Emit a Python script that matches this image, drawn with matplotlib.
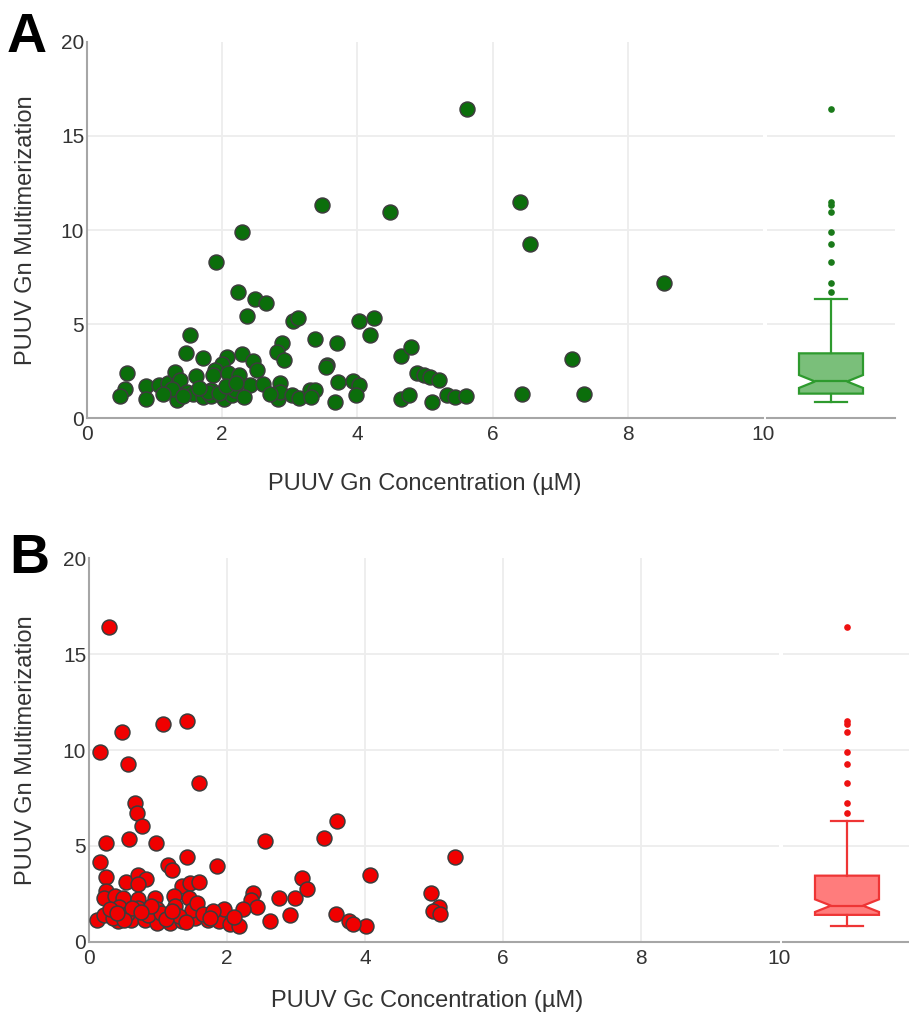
import matplotlib
matplotlib.use("Agg")
import matplotlib.pyplot as plt

plt.rcParams['font.family'] = ['Liberation Sans', 'DejaVu Sans']

# ---------------- Panel A data: PUUV Gn concentration vs multimerization ----------------
gn_conc = [5.62, 3.48, 4.48, 2.30, 1.91, 2.23, 2.49, 2.65, 2.36, 3.05, 3.12, 4.03, 4.25, 4.18,
           1.53, 3.38, 3.70, 2.88, 2.81, 2.91, 1.46, 1.71, 2.30, 2.45, 2.51, 2.07, 2.00, 1.89,
           1.86, 2.09, 2.25, 4.65, 4.80, 3.55, 3.53, 0.59, 0.56, 0.49, 0.87, 0.88, 1.07, 1.20,
           1.30, 1.33, 1.35, 1.38, 1.48, 1.61, 1.57, 1.71, 1.84, 1.84, 2.02, 2.14, 2.19, 2.41,
           2.60, 2.85, 2.83, 2.85, 3.03, 3.14, 3.30, 3.37, 3.32, 3.72, 3.67, 3.94, 4.03, 3.98,
           4.65, 4.77, 4.88, 4.98, 5.07, 5.20, 5.11, 5.32, 5.44, 5.60, 1.79,
           6.40, 6.56, 8.53, 7.17, 6.43, 7.35,
           1.25, 1.42, 1.65, 1.95, 2.05, 2.32, 2.70, 1.12, 2.20]
gn_mult = [16.42, 11.33, 10.97, 9.91, 8.30, 6.72, 6.31, 6.10, 5.44, 5.18, 5.34, 5.18, 5.34, 4.45,
           4.45, 4.20, 4.02, 4.02, 3.53, 3.09, 3.48, 3.21, 3.44, 3.05, 2.59, 3.26, 2.90, 2.55,
           2.29, 2.38, 2.29, 3.32, 3.79, 2.82, 2.70, 2.38, 1.58, 1.17, 1.70, 1.05, 1.76, 1.86,
           2.46, 0.99, 1.86, 2.03, 1.40, 2.23, 1.31, 1.13, 1.17, 1.49, 1.05, 1.22, 1.49, 1.76,
           1.81, 1.88, 1.05, 1.40, 1.22, 1.10, 1.49, 1.49, 1.13, 1.93, 0.87, 1.98, 1.76, 1.22,
           1.05, 1.22, 2.38, 2.29, 2.20, 2.03, 0.89, 1.26, 1.13, 1.19, 1.40,
           11.51, 9.26, 7.20, 3.14, 1.31, 1.31,
           1.55, 1.20, 1.62, 1.35, 1.70, 1.15, 1.28, 1.30, 1.85]

# ---------------- Panel B data: PUUV Gc concentration vs Gn multimerization ----------------
gc_conc = [0.29, 0.16, 0.48, 0.56, 1.07, 1.42, 1.59, 0.66, 0.70, 0.77, 0.24, 0.58, 0.97, 0.16,
           1.42, 1.15, 1.20, 1.86, 2.55, 3.41, 3.59, 4.07, 0.25, 0.54, 0.71, 0.83, 0.71, 1.35,
           1.47, 1.59, 0.25, 0.22, 0.37, 0.49, 0.71, 0.96, 1.23, 1.45, 2.38, 2.35, 2.43, 2.75,
           2.99, 3.09, 3.16, 2.92, 2.62, 3.58, 3.77, 4.02, 0.12, 0.22, 0.42, 0.61, 0.81, 0.98,
           1.18, 1.35, 1.54, 1.72, 1.89, 2.04, 2.18, 1.96, 2.23, 0.71, 0.98, 1.25, 1.49, 0.44,
           1.57, 5.31, 4.95, 5.07, 4.99, 5.08, 3.82,
           0.35, 0.55, 0.85, 1.05, 1.30, 1.65, 0.30, 0.62, 0.90, 1.12, 1.40, 1.80, 2.10, 0.50,
           0.75, 1.20, 0.40, 1.75]
gc_mult = [16.40, 9.91, 10.96, 9.25, 11.34, 11.52, 8.29, 7.21, 6.72, 6.06, 5.15, 5.36, 5.15, 4.15,
           4.41, 4.01, 3.75, 3.96, 5.27, 5.41, 6.28, 3.49, 3.40, 3.14, 3.49, 3.27, 3.01, 2.88,
           3.05, 3.09, 2.65, 2.30, 2.36, 2.30, 2.25, 2.30, 2.36, 2.30, 2.53, 2.18, 1.83, 2.27,
           2.30, 3.32, 2.74, 1.40, 1.08, 1.43, 1.08, 0.82, 1.13, 1.40, 1.06, 1.13, 1.13, 0.96,
           0.96, 1.08, 1.22, 1.13, 1.08, 0.91, 0.84, 1.71, 1.71, 1.75, 1.71, 1.88, 1.66, 1.83,
           2.01, 4.40, 2.53, 1.83, 1.60, 1.43, 0.90,
           1.25, 1.45, 1.40, 1.50, 1.35, 1.45, 1.70, 1.75, 1.85, 1.20, 1.05, 1.60, 1.30, 1.15,
           1.55, 1.62, 1.50, 1.25]

x_ticks = [0, 2, 4, 6, 8, 10]
y_ticks = [0, 5, 10, 15, 20]

W, H = 909, 1022
fig = plt.figure(figsize=(W / 100, H / 100), dpi=100)

GRID = '#ededed'
SPINE = '#a6a6a6'
TICKC = '#333333'


def px_rect(left, top, right, bottom):
    return [left / W, 1 - bottom / H, (right - left) / W, (bottom - top) / H]


def panel(scatter_px, box_px, x, y, fill, box_face, box_edge, out_col, xlabel, letter,
          letter_xy, xlab_pos, ylab_x):
    ax = fig.add_axes(px_rect(*scatter_px))
    ax.set_axisbelow(True)
    ax.scatter(x, y, s=115, c=fill, edgecolors='#3c3c3c', linewidths=1.1, zorder=3)
    ax.set_xlim(0, 10)
    ax.set_ylim(0, 20)
    ax.set_xticks(x_ticks)
    ax.set_yticks(y_ticks)
    ax.grid(True, color=GRID, linewidth=1.3)
    for i in (0, len(x_ticks) - 1):
        ax.xaxis.get_gridlines()[i].set_visible(False)
    for i in (0, len(y_ticks) - 1):
        ax.yaxis.get_gridlines()[i].set_visible(False)
    for s in ('top', 'right'):
        ax.spines[s].set_visible(False)
    for s in ('left', 'bottom'):
        ax.spines[s].set_color(SPINE)
        ax.spines[s].set_linewidth(1.5)
    ax.tick_params(axis='both', length=0, labelsize=15, colors=TICKC)
    ax.tick_params(axis='y', pad=2)
    ax.tick_params(axis='x', pad=5)
    ax.set_xlabel(xlabel, fontsize=17, color=TICKC)
    ax.xaxis.set_label_coords(xlab_pos[0], xlab_pos[1])
    ax.set_ylabel('PUUV Gn Multimerization', fontsize=17, color=TICKC)
    ax.yaxis.set_label_coords(ylab_x, 0.5)

    bx = fig.add_axes(px_rect(*box_px))
    bx.set_axisbelow(True)
    bx.boxplot([y], positions=[0], widths=0.5, notch=True, patch_artist=True,
               boxprops=dict(facecolor=box_face, edgecolor=box_edge, linewidth=1.6),
               medianprops=dict(color=box_edge, linewidth=1.6),
               whiskerprops=dict(color=box_edge, linewidth=1.6),
               capprops=dict(color=box_edge, linewidth=1.6),
               flierprops=dict(marker='o', markerfacecolor=out_col, markeredgecolor='none',
                               markersize=4.8))
    bx.set_xlim(-0.5, 0.5)
    bx.set_ylim(0, 20)
    bx.set_yticks(y_ticks)
    bx.set_xticks([])
    bx.yaxis.grid(True, color=GRID, linewidth=1.3)
    for i in (0, len(y_ticks) - 1):
        bx.yaxis.get_gridlines()[i].set_visible(False)
    for s in ('top', 'right', 'left'):
        bx.spines[s].set_visible(False)
    bx.spines['bottom'].set_color(SPINE)
    bx.spines['bottom'].set_linewidth(1.5)
    bx.tick_params(axis='y', length=0, labelleft=False)

    fig.text(letter_xy[0] / W, 1 - letter_xy[1] / H, letter, fontsize=40,
             fontweight='bold', color='black', ha='left', va='baseline')


panel((87, 41.7, 763, 418.3), (767, 41.7, 895, 418.3), gn_conc, gn_mult,
      '#0b6e0b', '#7abf7a', '#2e9a2e', '#1a7a1a',
      'PUUV Gn Concentration (µM)', 'A', (7, 51.7), (0.5, -0.144), -0.074)

panel((89, 558.3, 779, 941.7), (783, 558.3, 911, 941.7), gc_conc, gc_mult,
      '#f00000', '#ff7c7c', '#ee3535', '#ee1111',
      'PUUV Gc Concentration (µM)', 'B', (9, 573), (0.49, -0.127), -0.075)

fig.savefig('out.png', dpi=100)
